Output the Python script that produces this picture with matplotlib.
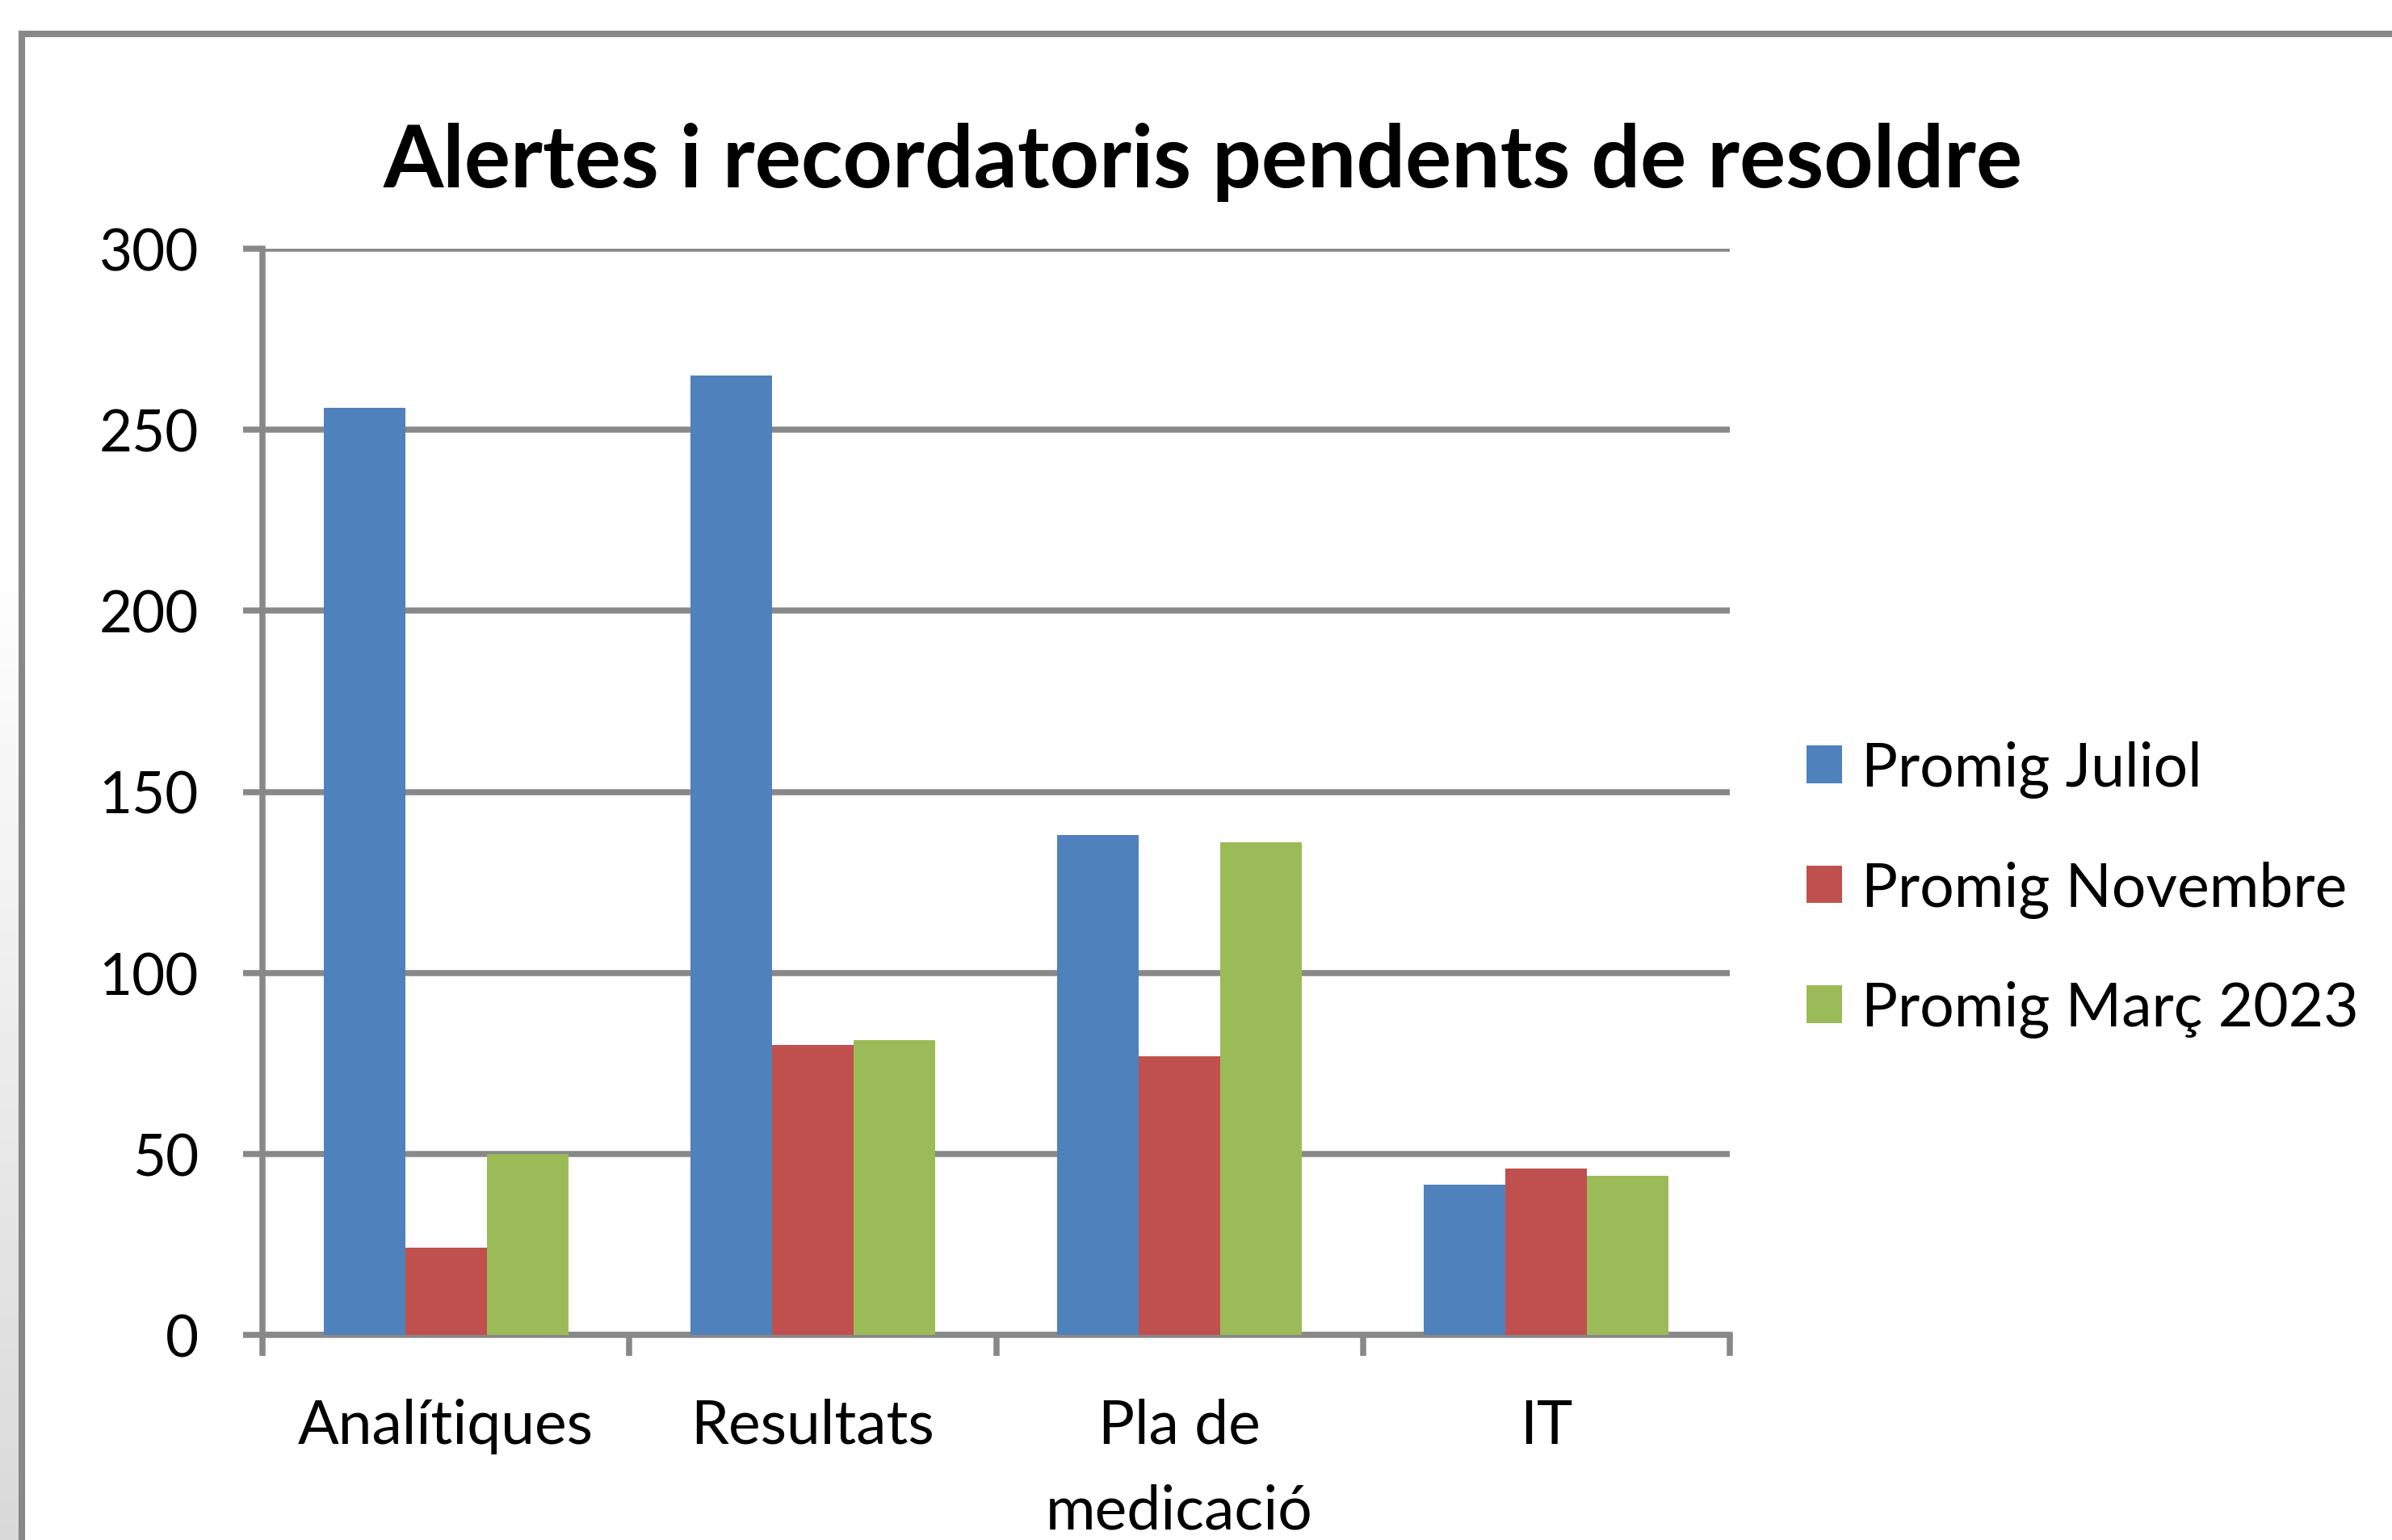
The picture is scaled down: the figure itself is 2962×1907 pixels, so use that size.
import numpy as np
import matplotlib
matplotlib.use("Agg")
import matplotlib.pyplot as plt
from matplotlib.lines import Line2D

plt.rcParams['font.family'] = ['Lato', 'DejaVu Sans']

# dades llegides del gràfic
categories = ['Analítiques', 'Resultats', 'Pla de\nmedicació', 'IT']
series_names = ['Promig Juliol', 'Promig Novembre', 'Promig Març 2023']
juliol = [256, 265, 138, 41.5]
novembre = [24, 80, 77, 46]
marc_2023 = [50, 81.5, 136, 44]
y_ticks = [0, 50, 100, 150, 200, 250, 300]

colors = ['#4F81BD', '#C0504D', '#9BBB59']
grid_color = '#888888'
W, H = 2962, 1908

fig = plt.figure(figsize=(W / 100, H / 100), dpi=100)
fig.patch.set_facecolor('white')

# ombra suau a l'esquerra
shade = fig.add_axes([0, 0, 23 / W, 1])
col = np.ones(200)
col[70:] = np.linspace(1.0, 0.85, 130)
shade.imshow(col[:, None], cmap='gray', vmin=0, vmax=1, aspect='auto')
shade.axis('off')

# marc exterior
bx, by = 27 / W, 1 - 43 / H
fig.add_artist(Line2D([bx, bx], [0, by], color=grid_color, lw=5.8,
                      solid_capstyle='projecting', transform=fig.transFigure))
fig.add_artist(Line2D([bx, 1], [by, by], color=grid_color, lw=5.8,
                      solid_capstyle='projecting', transform=fig.transFigure))

left, right = 325 / W, 2142 / W
bottom, top = 1 - 1654 / H, 1 - 309 / H
ax = fig.add_axes([left, bottom, right - left, top - bottom])

x = np.arange(len(categories))
w = 1 / 4.5
data = [juliol, novembre, marc_2023]
bars = []
for i, vals in enumerate(data):
    b = ax.bar(x + (i - 1) * w, vals, width=w, color=colors[i],
               label=series_names[i], zorder=3)
    bars.append(b)

ax.set_xlim(-0.5, len(categories) - 0.5)
ax.set_ylim(0, 300)
ax.set_yticks(y_ticks)
ax.set_yticklabels([str(v) for v in y_ticks])
ax.yaxis.grid(True, color=grid_color, lw=5.4)
ax.set_axisbelow(True)

for s in ['top', 'right']:
    ax.spines[s].set_visible(False)
for s in ['left', 'bottom']:
    ax.spines[s].set_color(grid_color)
    ax.spines[s].set_linewidth(5.4)

ax.tick_params(axis='y', direction='out', length=17, width=5.4,
               color=grid_color, pad=40, labelsize=51)
ax.set_xticks(x)
ax.set_xticklabels(categories, linespacing=1.65)
ax.set_xticks(np.arange(-0.5, len(categories)), minor=True)
ax.tick_params(axis='x', which='major', length=0, pad=56, labelsize=54)
ax.tick_params(axis='x', which='minor', direction='out', length=19,
               width=5.4, color=grid_color)

fig.text(0.503, 1 - 232 / H, 'Alertes i recordatoris pendents de resoldre',
         ha='center', va='baseline', fontsize=77, fontweight='bold')

fig.legend(handles=bars, labels=series_names, loc='center left',
           bbox_to_anchor=(2237 / W, 1 - 1102 / H), frameon=False,
           fontsize=54, handlelength=0.58, handleheight=0.58,
           handletextpad=0.33, labelspacing=1.03, borderpad=0,
           borderaxespad=0)

fig.savefig('out.png', dpi=100)
